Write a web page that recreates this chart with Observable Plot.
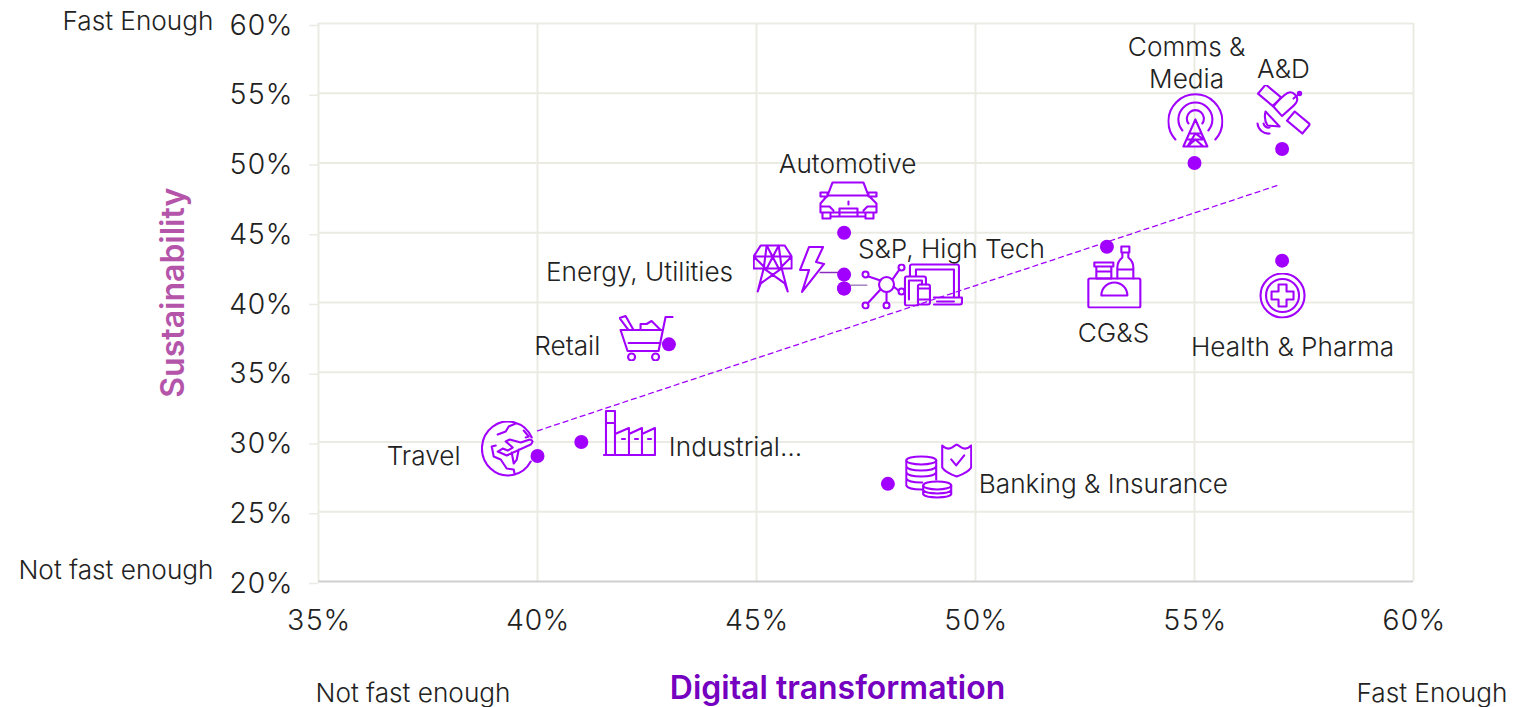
<!DOCTYPE html>
<html><head><meta charset="utf-8">
<script src="https://cdn.jsdelivr.net/npm/d3@7"></script>
<script src="https://cdn.jsdelivr.net/npm/@observablehq/plot@0.6"></script>
<style>html,body{margin:0;padding:0;background:#fff}svg{display:block}</style>
</head><body><div id="chart"></div>
<script>
const FONT = "Inter";
const INK = "#222222", PURPLE = "#A100FF", GRID = "#EBEBE3";

// Scatter values
const industries = ["Travel","Industrial","Retail","Automotive","Energy","Utilities","S&P, High Tech","Banking","CG&S","Comms","A&D","Health"];
const digital = [40,41,43,47,47,47,47,48,53,55,57,57];
const sustain = [29,30,37,45,42,41,41,27,44,50,51,43];
// Trend line ends
const trendX = [40,56.9];
const trendY = [30.8,48.4];
// Axis ticks
const xTicks = [35,40,45,50,55,60];
const yTicks = [20,25,30,35,40,45,50,55,60];
// Labels
const labelText = ["Comms &\nMedia","A&D","Automotive","S&P, High Tech","Energy, Utilities","Retail","Travel","Industrial…","Banking & Insurance","CG&S","Health & Pharma"];
const labelX = [54.82,57.03,47.08,49.45,42.33,40.68,37.40,44.52,52.92,53.15,57.24];
const labelY = [57.13,56.70,49.89,43.80,42.15,36.85,28.96,29.61,26.95,37.78,36.77];
// Icon anchors (data units), in the same order as the drawings below
const iconX = [55.02,57.01,47.10,45.37,46.28,47.90,49.04,42.49,39.32,42.10,49.16,53.17,57.01];
const iconY = [53.05,53.69,47.31,42.44,42.37,41.15,41.29,37.49,29.46,30.68,27.89,41.86,40.50];
const iconW = [54,54,58,38,27,44,59,54,52,51,65,54,48];
const iconH = [54,52,38,48,47,44,42,45,56,45,54,62,44];
const iconArt = [
 // comms tower
 '<path d="M7 46A27 27 0 1 1 47 46M14 37A17 17 0 1 1 40 37M20 30A8.5 8.5 0 1 1 34 30"/><path d="M27 26L15 53H39ZM22 40H32M19 46H35L27 40L19 53M35 46L27 40M35 53L27 46L19 53"/>',
 // satellite
 '<g transform="translate(14,10) rotate(40)"><rect x="-10" y="-6" width="20" height="12"/></g><g transform="translate(43,37) rotate(40)"><rect x="-10" y="-6" width="20" height="12"/></g><g transform="translate(30,18) rotate(-42)"><path d="M-11 -7H5Q13 -7 13 0Q13 7 5 7H-11Z"/></g><path d="M10 26L24 41L12 40Q8 34 10 26ZM38 13L44 8"/><circle cx="44" cy="8" r="1.6" fill="#A100FF"/><path d="M2 38A11 11 0 0 0 14 48M8 38A5 5 0 0 0 14 42"/>',
 // car
 '<path d="M8 14L13 1H44L49 14M1 11H8V15H1ZM49 11H57V15H49ZM8 14L1 22V31H57V22L49 14ZM20 27H38V35H20ZM3 32V37H11V32M46 32V37H54V32M29 20V23M1 25H10L14 29M57 25H48L44 29M11 35H20M38 35H46"/>',
 // pylon
 '<path d="M7 1H31L38 12H0ZM0 12L12 24H0ZM38 12L26 24H38ZM13 1L10 24L4 47M25 1L28 24L34 47M13 1L25 24M25 1L13 24M10 24L31 39M28 24L7 39M7 39L4 47M31 39L34 47M0 24H38"/>',
 // bolt
 '<path d="M10 1H24L17 16L25 18L3 46L10 24L1 24Z"/>',
 // network
 '<circle cx="25" cy="20" r="7.5"/><circle cx="4" cy="10" r="3"/><circle cx="40" cy="3" r="3"/><circle cx="40" cy="27" r="3"/><circle cx="25" cy="41" r="3"/><circle cx="4" cy="41" r="3"/><path d="M7 12L19 16M38 5L31 15M37 26L32 22M25 28V38M6 39L19 25"/>',
 // devices
 '<path d="M6 12V3Q6 1 8 1H53Q55 1 55 3V34M12 12V6H50V33M30 34H58V39Q58 41 56 41H30M33 38H50M1 40V15Q1 13 3 13H20Q22 13 22 15V21M1 40Q1 42 3 42H14M5 36V17H18V21"/><rect x="14" y="21" width="12" height="20" rx="2"/><path d="M14 36H26M14 25H26"/>',
 // cart
 '<path d="M53 2H46L39 36H8L1 15H42M9 28H41M21 15V9H27L32 6L41 15M0 3L6 1L14 15H9Z"/><circle cx="12" cy="42" r="3.5"/><circle cx="36" cy="42" r="3.5"/>',
 // globe and plane
 '<path d="M50 16A26 27 0 1 0 49 40"/><path d="M16 13L24 10L27 5L34 2M42 9L47 15L44 16M14 24L10 25L12 35L19 38L25 47L32 48L33 53"/><path d="M49 23L25 34L16 30L21 27L26 29L31 26L24 20L28 18L39 21L48 18Q53 19 49 23ZM30 31L32 42L35 38L37 28"/>',
 // factory
 '<path d="M2 45V1H11V45M2 13H11M0 45H51V18L38 24V18L25 24V18L11 24M25 24V45M38 24V45M18 29H21M31 29H34M44 29H47"/>',
 // coins and shield
 '<ellipse cx="15" cy="16" rx="15" ry="4"/><path d="M0 16V41Q2 45 15 45H16M0 22Q2 26 15 26T30 22M0 28Q2 32 15 32T30 28M0 34Q2 38 15 38H16M30 16V35"/><ellipse cx="31" cy="41" rx="14" ry="4"/><path d="M17 41V50Q19 53 31 53T45 50V41M17 46Q19 49 31 49T45 46"/><path d="M36 1Q41 6 46 3L50.5 0L55 3Q60 6 65 1V23Q62 28 50.500 32Q39 28 36 23ZM45 15L50 21L58 11"/>',
 // packaged goods
 '<rect x="1" y="33" width="52" height="29" rx="1.500"/><path d="M14 50A13 13 0 0 1 40 50ZM7 17H26V21H7ZM9 21V33H24V21M9 26H24M34 1H42V7H34ZM35 7V12Q30 16 30 22V33M41 7V12Q46 16 46 22V33M30 24H46"/>',
 // health
 '<circle cx="24" cy="22" r="22"/><circle cx="24" cy="22" r="16.500"/><path d="M20 11H28V18H35V26H28V33H20V26H13V18H20Z"/>'
];

function svgUri(art,w,h){
  const s = `<svg xmlns="http://www.w3.org/2000/svg" viewBox="-1 -1 ${w+2} ${h+2}" width="${w+2}" height="${h+2}"><g fill="none" stroke="#A100FF" stroke-width="2.1" stroke-linejoin="round" stroke-linecap="round">${art}</g></svg>`;
  return "data:image/svg+xml," + encodeURIComponent(s);
}
const points = industries.map((n,i)=>({n,x:digital[i],y:sustain[i]}));
const trend = trendX.map((x,i)=>({x,y:trendY[i]}));
const labels = labelText.map((t,i)=>({t,x:labelX[i],y:labelY[i]}));
const icons = iconArt.map((a,i)=>({x:iconX[i],y:iconY[i],w:iconW[i]+2,h:iconH[i]+2,src:svgUri(a,iconW[i],iconH[i])}));

const LABEL = {fontSize:26.2, fontWeight:300, fill:INK};
const chart = Plot.plot({
  width:1532, height:707,
  marginLeft:318, marginRight:119, marginTop:23, marginBottom:126,
  style:{fontFamily:FONT, background:"#fff", overflow:"visible"},
  x:{domain:[35,60]},
  y:{domain:[20,60]},
  marks:[
    Plot.gridX(xTicks.slice(1),{stroke:GRID,strokeOpacity:1,strokeWidth:2}),
    Plot.gridY(yTicks.slice(1),{stroke:GRID,strokeOpacity:1,strokeWidth:2}),
    Plot.ruleX([35],{stroke:GRID,strokeWidth:2}),
    Plot.axisY(yTicks,{tickSize:9,tickPadding:17,stroke:GRID,strokeWidth:1.5,fill:INK,fontSize:28.5,fontWeight:300,tickFormat:d=>d+"%",label:null,dy:2}),
    Plot.axisX(xTicks,{tickSize:0,tickPadding:20,fill:INK,fontSize:28.5,fontWeight:300,tickFormat:d=>d+"%",label:null,dy:8}),
    Plot.ruleY([20],{stroke:"#CFCFCF",strokeWidth:2}),
    Plot.line(trend,{x:"x",y:"y",stroke:PURPLE,strokeWidth:1.3,strokeDasharray:"5,4"}),
    Plot.link([{x1:46.44,x2:47,y:42.15},{x1:47,x2:47.53,y:41.24}],{x1:"x1",x2:"x2",y1:"y",y2:"y",stroke:d=>d.y>42?"#8A2BC0":"#A283BE",strokeWidth:1.5}),
    Plot.dot(points,{x:"x",y:"y",r:7,fill:PURPLE,stroke:"none"}),
    Plot.image(icons,{x:"x",y:"y",width:"w",height:"h",src:"src"}),
    Plot.text(labels,{x:"x",y:"y",text:"t",lineHeight:1.22,dy:-2,...LABEL}),
    Plot.text(["Fast Enough"],{x:[35],y:[60],dx:-105,dy:-2,textAnchor:"end",...LABEL}),
    Plot.text(["Not fast enough"],{x:[35],y:[20],dx:-105,dy:-11,textAnchor:"end",...LABEL}),
    Plot.text(["Not fast enough"],{x:[35],y:[20],dx:-3,dy:112,textAnchor:"start",...LABEL}),
    Plot.text(["Fast Enough"],{x:[60],y:[20],dx:94,dy:112,textAnchor:"end",...LABEL}),
    Plot.text(["Digital transformation"],{x:[46.85],y:[20],dy:107,fontSize:32,fontWeight:600,fill:"#7500C0"}),
    Plot.text(["Sustainability"],{x:[35],y:[40.7],dx:-145,rotate:-90,fontSize:32,fontWeight:600,fill:"#B455AA"})
  ]
});
document.getElementById("chart").append(chart);
</script></body></html>
